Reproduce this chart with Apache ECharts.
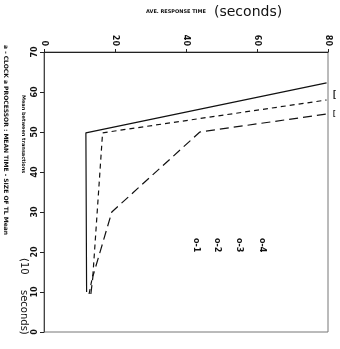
<!DOCTYPE html>
<html>
<head>
<meta charset="utf-8">
<script src="https://cdn.jsdelivr.net/npm/echarts@6/dist/echarts.min.js"></script>
<style>html,body{margin:0;padding:0;background:#fff}#c{width:340px;height:349px}</style>
</head>
<body>
<div id="c"></div>
<script>
// Data
const xTicks = [0, 20, 40, 60, 80];
const yTicks = [0, 10, 20, 30, 40, 50, 60, 70];
const solidLine = [[12.0, 10.0], [11.8, 49.8], [79.6, 62.3]];
const dashedLine = [[12.7, 9.5], [13.8, 14.5], [16.5, 49.8], [79.6, 58.0]];
const dashDotLine = [[13.2, 9.5], [13.8, 14.0], [19.1, 30.0], [43.9, 50.0], [79.6, 54.5]];
const legendMarks = ['o-1', 'o-2', 'o-3', 'o-4'];

const chart = echarts.init(document.getElementById('c'), null, {renderer: 'canvas'});
const lineStyleBase = {color: '#111', width: 1.2};
chart.setOption({
  animation: false,
  backgroundColor: '#fff',
  grid: {left: 44, right: 12, top: 52, bottom: 17, containLabel: false, show: true, borderColor: '#777', borderWidth: 1, backgroundColor: 'transparent'},
  xAxis: [{
    type: 'value', position: 'top', min: xTicks[0], max: xTicks[xTicks.length - 1], interval: 20,
    axisLine: {show: true, onZero: false, lineStyle: {color: '#222', width: 1}},
    axisTick: {show: true, inside: false, length: 3, lineStyle: {color: '#222'}},
    axisLabel: {rotate: 90, margin: 6, fontSize: 8, fontWeight: 'bold', color: '#111', fontFamily: 'DejaVu Sans'},
    splitLine: {show: false}
  }],
  yAxis: [{
    type: 'value', position: 'left', min: yTicks[0], max: yTicks[yTicks.length - 1], interval: 10,
    axisLine: {show: true, onZero: false, lineStyle: {color: '#444', width: 1}},
    axisTick: {show: true, length: 4, lineStyle: {color: '#222'}},
    axisLabel: {rotate: 90, margin: 5, fontSize: 8, fontWeight: 'bold', color: '#111', fontFamily: 'DejaVu Sans'},
    splitLine: {show: false}
  }],
  series: [
    {type: 'line', name: 'A', data: solidLine, symbol: 'none', lineStyle: Object.assign({}, lineStyleBase, {type: 'solid'})},
    {type: 'line', name: 'B', data: dashedLine, symbol: 'none', lineStyle: Object.assign({}, lineStyleBase, {type: [5, 4]})},
    {type: 'line', name: 'C', data: dashDotLine, symbol: 'none', lineStyle: Object.assign({}, lineStyleBase, {type: [9, 5]})}
  ],
  graphic: [
    {type: 'text', left: 146, top: 9, style: {text: 'AVE. RESPONSE TIME', fontSize: 5, fontWeight: 'bold', fill: '#111', fontFamily: 'DejaVu Sans'}},
    {type: 'text', left: 214, top: 5, style: {text: '(seconds)', fontSize: 14, fill: '#111', fontFamily: 'DejaVu Sans'}},
    {type: 'text', x: 9, y: 45, rotation: -Math.PI / 2, style: {text: 'a - CLOCK a PROCESSOR : MEAN TIME - SIZE OF TL Mean', fontSize: 6, fontWeight: 'bold', fill: '#111', fontFamily: 'DejaVu Sans'}},
    {type: 'text', x: 26, y: 95, rotation: -Math.PI / 2, style: {text: 'Mean between transactions', fontSize: 5, fontWeight: 'bold', fill: '#111', fontFamily: 'DejaVu Sans'}},
    {type: 'text', x: 29, y: 258, rotation: -Math.PI / 2, style: {text: '(10', fontSize: 10, fill: '#111', fontFamily: 'DejaVu Sans'}},
    {type: 'text', x: 29, y: 290, rotation: -Math.PI / 2, style: {text: 'seconds)', fontSize: 10, fill: '#111', fontFamily: 'DejaVu Sans'}},
    {type: 'text', x: 200, y: 238, rotation: -Math.PI / 2, style: {text: legendMarks[0], fontSize: 8, fontWeight: 'bold', fill: '#111', fontFamily: 'DejaVu Sans'}},
    {type: 'text', x: 221, y: 238, rotation: -Math.PI / 2, style: {text: legendMarks[1], fontSize: 8, fontWeight: 'bold', fill: '#111', fontFamily: 'DejaVu Sans'}},
    {type: 'text', x: 243, y: 238, rotation: -Math.PI / 2, style: {text: legendMarks[2], fontSize: 8, fontWeight: 'bold', fill: '#111', fontFamily: 'DejaVu Sans'}},
    {type: 'text', x: 266, y: 238, rotation: -Math.PI / 2, style: {text: legendMarks[3], fontSize: 8, fontWeight: 'bold', fill: '#111', fontFamily: 'DejaVu Sans'}},
    {type: 'text', x: 333, y: 90, style: {text: '[', fontSize: 9, fontWeight: 'bold', fill: '#111'}},
    {type: 'text', x: 333, y: 110, style: {text: '[', fontSize: 7, fontWeight: 'bold', fill: '#111'}}
  ]
});
</script>
</body>
</html>
